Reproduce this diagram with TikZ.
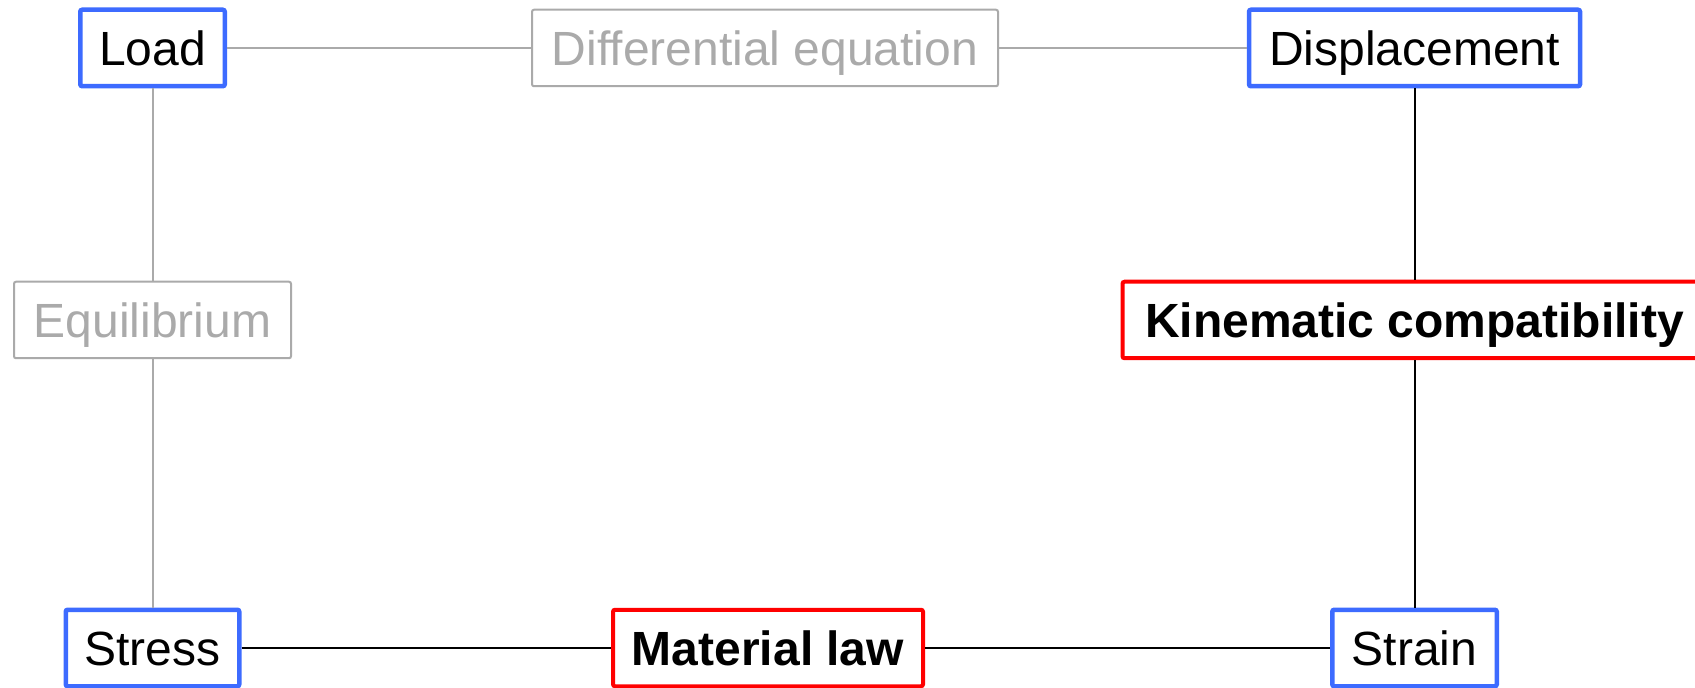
\documentclass[tikz,border=0pt]{standalone}
\usepackage{fontspec}
\setmainfont{Liberation Sans}
\definecolor{boxblue}{RGB}{61,107,255}
\definecolor{boxred}{RGB}{255,0,0}
\definecolor{lgray}{RGB}{170,170,170}
\tikzset{
  base/.style={rectangle, fill=white, minimum height=38.25pt, inner sep=0pt,
    text height=17.2pt, text depth=0pt,
    font=\fontsize{24}{28}\selectfont, rounded corners=1pt},
  bluebox/.style={base, draw=boxblue, line width=2.25pt, text=black},
  redbox/.style={base, draw=boxred, line width=2pt, text=black, font=\fontsize{24}{28}\selectfont\bfseries},
  graybox/.style={base, draw=lgray, line width=1pt, text=lgray},
  grayline/.style={draw=lgray, line width=1pt},
  blackline/.style={draw=black, line width=1pt},
}
\begin{document}
\begin{tikzpicture}[x=0.5pt,y=-0.5pt]
\useasboundingbox (0,0) rectangle (1695,688);
% nodes
\node[bluebox, minimum width=72.25pt] (load) at (152.5,48) {Load};
\node[graybox, minimum width=233pt] (diff) at (765,48) {Differential equation};
\node[bluebox, minimum width=165.5pt] (disp) at (1414.5,48) {Displacement};
\node[graybox, minimum width=138.5pt] (equi) at (152.5,320) {Equilibrium};
\node[redbox, minimum width=292pt] (kin) at (1414.5,320) {Kinematic compatibility};
\node[bluebox, minimum width=86.75pt] (stress) at (152.5,648) {Stress};
\node[redbox, minimum width=155pt] (mat) at (768,648) {Material law};
\node[bluebox, minimum width=82.25pt] (strain) at (1414.5,648) {Strain};
% connectors
\draw[grayline] (load) -- (diff);
\draw[grayline] (diff) -- (disp);
\draw[grayline] (load) -- (equi);
\draw[grayline] (equi) -- (stress);
\draw[blackline] (disp) -- (kin);
\draw[blackline] (kin) -- (strain);
\draw[blackline] (stress) -- (mat);
\draw[blackline] (mat) -- (strain);
\end{tikzpicture}
\end{document}
